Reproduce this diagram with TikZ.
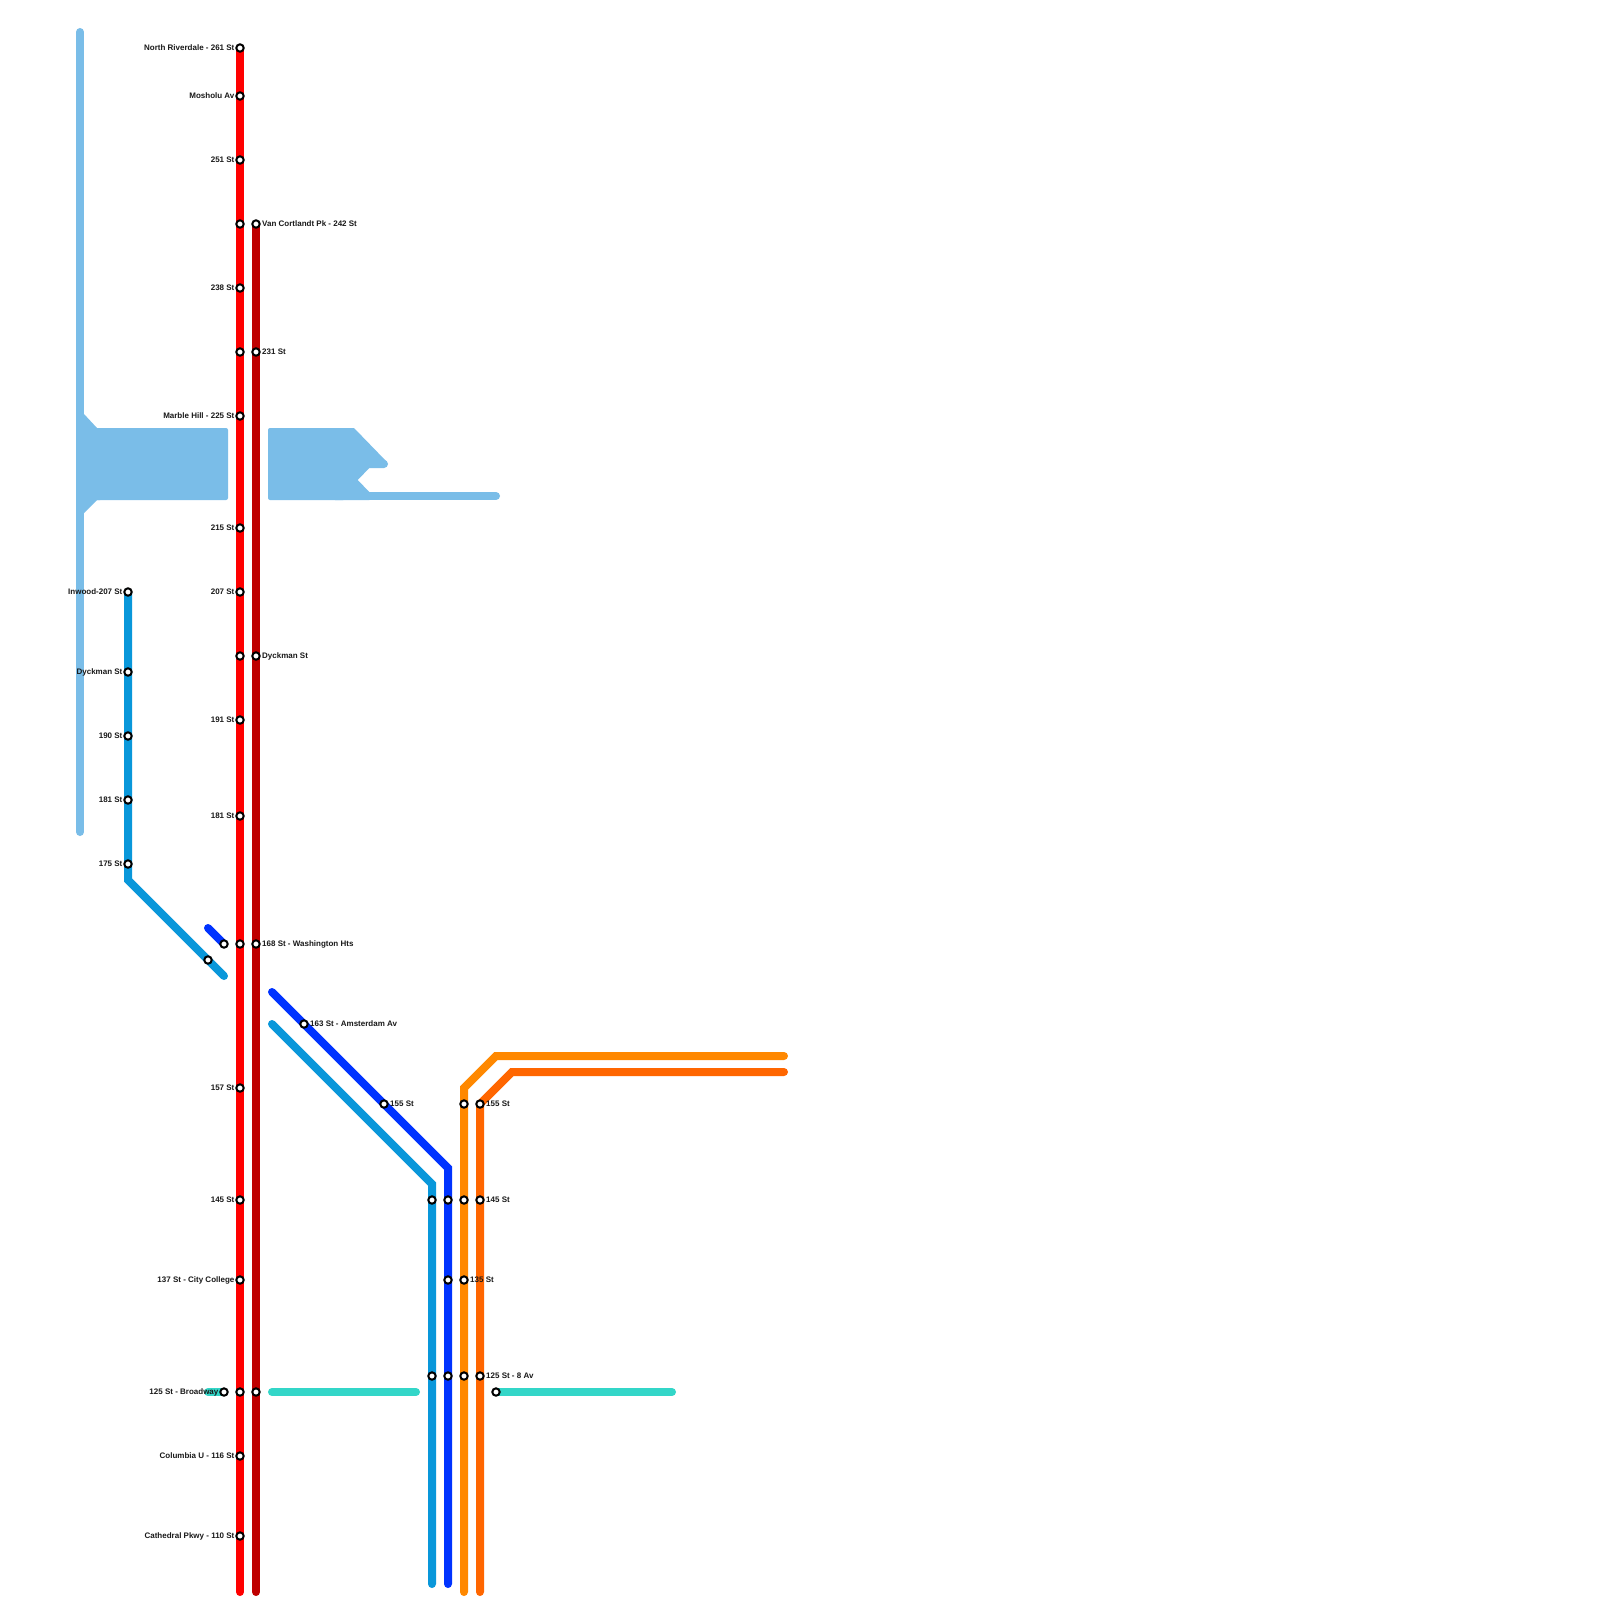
\documentclass[tikz,border=0pt]{standalone}
\usepackage{fontspec}
\setmainfont{Liberation Sans}
\definecolor{cred}{HTML}{FF0000}
\definecolor{cdred}{HTML}{BF0000}
\definecolor{cmblue}{HTML}{0997DA}
\definecolor{cblue}{HTML}{0033FF}
\definecolor{corange}{HTML}{FF8800}
\definecolor{cdorange}{HTML}{FF6600}
\definecolor{cturq}{HTML}{33D6C8}
\definecolor{clight}{HTML}{7ABDE8}
\tikzset{
  route/.style={line width=8pt,line cap=round,line join=miter,miter limit=10},
  stn/.style={circle,draw=black,fill=white,line width=2pt,minimum size=7.4pt,inner sep=0pt},
  lbl/.style={inner sep=0pt,font=\bfseries\fontsize{8}{9}\selectfont,text=black!90}
}
\newcommand{\stn}[3]{\node[stn] (#1) at (#2,#3) {};}
\newcommand{\stl}[4]{\stn{#1}{#2}{#3}\node[lbl,anchor=base east] (#1t) at ([xshift=-5.4pt,yshift=-2.5pt]#1.center) {#4};}
\newcommand{\str}[4]{\stn{#1}{#2}{#3}\node[lbl,anchor=base west] (#1t) at ([xshift=6pt,yshift=-2.5pt]#1.center) {#4};}
\begin{document}
\begin{tikzpicture}[x=1pt,y=-1pt]
\useasboundingbox (0,0) rectangle (1600,1600);
\fill[white] (0,0) rectangle (1600,1600);
% route way-points
\coordinate (la) at (80,32);
\coordinate (lb) at (80,832);
\coordinate (ra) at (240,48);
\coordinate (rb) at (240,1592);
\coordinate (da) at (256,224);
\coordinate (db) at (256,1592);
\coordinate (ma) at (128,592);
\coordinate (mb) at (128,880);
\coordinate (mc) at (224,976);
\coordinate (md) at (272,1024);
\coordinate (me) at (432,1184);
\coordinate (mf) at (432,1584);
\coordinate (ba) at (208,928);
\coordinate (bb) at (224,944);
\coordinate (bc) at (272,992);
\coordinate (bd) at (448,1168);
\coordinate (be) at (448,1584);
\coordinate (oa) at (784,1056);
\coordinate (ob) at (496,1056);
\coordinate (oc) at (464,1088);
\coordinate (od) at (464,1592);
\coordinate (pa) at (784,1072);
\coordinate (pb) at (512,1072);
\coordinate (pc) at (480,1104);
\coordinate (pd) at (480,1592);
\coordinate (ta) at (208,1392);
\coordinate (tb) at (224,1392);
\coordinate (tc) at (272,1392);
\coordinate (td) at (416,1392);
\coordinate (te) at (496,1392);
\coordinate (tf) at (672,1392);
% light-blue route and its blocks
\draw[route,clight] (la) -- (lb);
\fill[clight,rounded corners=2pt] (90,428) rectangle (228,500);
\fill[clight] (76,414) -- (84,414) -- (97,428) -- (100,428) -- (100,500) -- (97,500) -- (84,513) -- (76,513) -- cycle;
\fill[clight,rounded corners=2pt] (268,428) rectangle (345,500);
\fill[clight] (335,428) -- (354,428) -- (386,461) -- (384,468) -- (369.3,468) -- (357.7,480) -- (369.3,492) -- (369.3,500) -- (335,500) -- cycle;
\draw[route,clight] (370,464) -- (384,464);
\draw[route,clight] (366,496) -- (496,496);
% routes
\draw[route,cred] (ra) -- (rb);
\draw[route,cdred] (da) -- (db);
\draw[route,cmblue] (ma) -- (mb) -- (mc);
\draw[route,cmblue] (md) -- (me) -- (mf);
\draw[route,cblue] (ba) -- (bb);
\draw[route,cblue] (bc) -- (bd) -- (be);
\draw[route,corange] (oa) -- (ob) -- (oc) -- (od);
\draw[route,cdorange] (pa) -- (pb) -- (pc) -- (pd);
\draw[route,cturq] (ta) -- (tb);
\draw[route,cturq] (tc) -- (td);
\draw[route,cturq] (te) -- (tf);
% red stations
\stl{r1}{240}{48}{North Riverdale - 261 St}
\stl{r2}{240}{96}{Mosholu Av}
\stl{r3}{240}{160}{251 St}
\stn{r4}{240}{224}
\stl{r5}{240}{288}{238 St}
\stn{r6}{240}{352}
\stl{r7}{240}{416}{Marble Hill - 225 St}
\stl{r8}{240}{528}{215 St}
\stl{r9}{240}{592}{207 St}
\stn{r10}{240}{656}
\stl{r11}{240}{720}{191 St}
\stl{r12}{240}{816}{181 St}
\stn{r13}{240}{944}
\stl{r14}{240}{1088}{157 St}
\stl{r15}{240}{1200}{145 St}
\stl{r16}{240}{1280}{137 St - City College}
\stn{r17}{240}{1392}
\stl{r18}{240}{1456}{Columbia U - 116 St}
\stl{r19}{240}{1536}{Cathedral Pkwy - 110 St}
% dark-red stations
\str{d1}{256}{224}{Van Cortlandt Pk - 242 St}
\str{d2}{256}{352}{231 St}
\str{d3}{256}{656}{Dyckman St}
\str{d4}{256}{944}{168 St - Washington Hts}
\stn{d5}{256}{1392}
% medium-blue stations
\stl{m1}{128}{592}{Inwood-207 St}
\stl{m2}{128}{672}{Dyckman St}
\stl{m3}{128}{736}{190 St}
\stl{m4}{128}{800}{181 St}
\stl{m5}{128}{864}{175 St}
\stn{m6}{208}{960}
\stn{m7}{432}{1200}
\stn{m8}{432}{1376}
% blue stations
\stn{b1}{224}{944}
\str{b2}{304}{1024}{163 St - Amsterdam Av}
\str{b3}{384}{1104}{155 St}
\stn{b4}{448}{1200}
\stn{b5}{448}{1280}
\stn{b6}{448}{1376}
% orange stations
\stn{o1}{464}{1104}
\stn{o2}{464}{1200}
\str{o3}{464}{1280}{135 St}
\stn{o4}{464}{1376}
% dark-orange stations
\str{p1}{480}{1104}{155 St}
\str{p2}{480}{1200}{145 St}
\str{p3}{480}{1376}{125 St - 8 Av}
% turquoise stations
\stl{t1}{224}{1392}{125 St - Broadway}
\stn{t2}{496}{1392}
\end{tikzpicture}
\end{document}
